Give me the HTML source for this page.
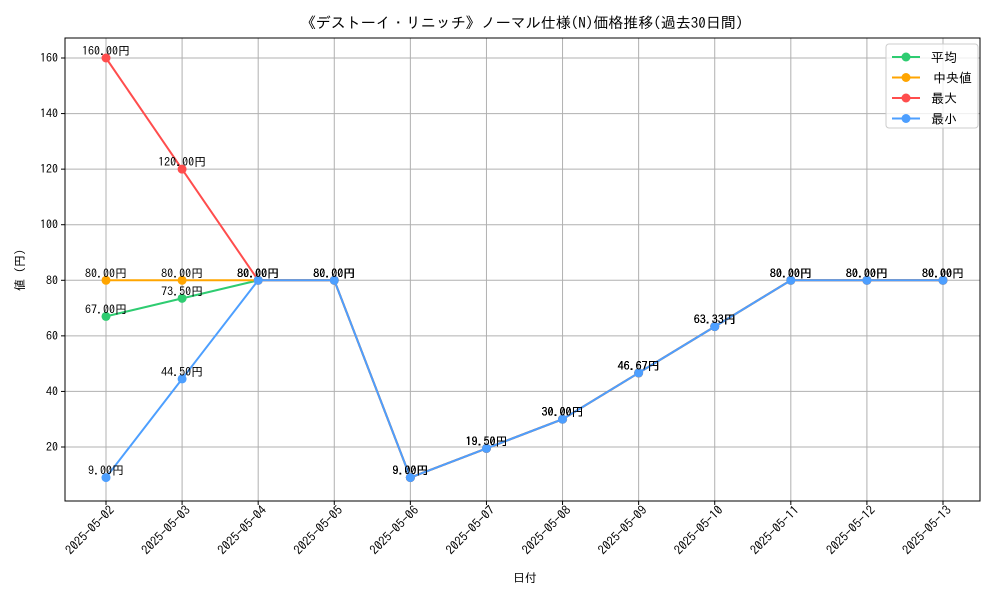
<!DOCTYPE html>
<html><head><meta charset="utf-8"><style>
body{margin:0;background:#fff}
svg text{font-family:"IPAGothic","Noto Sans CJK JP",sans-serif}
</style></head><body>
<svg id="c" width="1000" height="600" xmlns="http://www.w3.org/2000/svg">
<rect width="1000" height="600" fill="#fff"/>
<text x="522" y="28" font-size="15" text-anchor="middle">《デストーイ・リニッチ》ノーマル仕様(N)価格推移(過去30日間)</text>
<g id="grid"></g><g id="axes"></g><g id="series"></g>
<text x="525" y="582" font-size="12" text-anchor="middle">日付</text>
<text x="24" y="270" font-size="12" text-anchor="middle" transform="rotate(-90 24 270)">値 (円)</text>
<g>
<rect x="886" y="44" width="92" height="84" rx="3" fill="#fff" fill-opacity="0.8" stroke="#ccc"/>
<g id="legend"></g></g>
</svg>
<script>
const dates=["2025-05-02","2025-05-03","2025-05-04","2025-05-05","2025-05-06","2025-05-07","2025-05-08","2025-05-09","2025-05-10","2025-05-11","2025-05-12","2025-05-13"];
const meanVals=[67,73.5,80,80,9,19.5,30,46.67,63.33,80,80,80];
const medianVals=[80,80,80,80,9,19.5,30,46.67,63.33,80,80,80];
const maxVals=[160,120,80,80,9,19.5,30,46.67,63.33,80,80,80];
const minVals=[9,44.5,80,80,9,19.5,30,46.67,63.33,80,80,80];
const yTicks=[20,40,60,80,100,120,140,160];
const seriesNames=["平均","中央値","最大","最小"];
const colors=["#2ecc71","#ffa500","#ff4d4d","#4d9fff"];
const ns="http://www.w3.org/2000/svg";
const L=65,R=980,T=38,B=501;
const xs=i=>106+i*(943-106)/(dates.length-1);
const ys=v=>447-(v-20)*(447-58)/140;
function mk(tag,attrs,parent){const e=document.createElementNS(ns,tag);for(const k in attrs)e.setAttribute(k,attrs[k]);parent.appendChild(e);return e;}
const grid=document.getElementById('grid'),axes=document.getElementById('axes'),sg=document.getElementById('series'),lg=document.getElementById('legend');
dates.forEach((d,i)=>{const x=xs(i);
const g=mk('line',{x1:x,x2:x,y1:T,y2:B,stroke:'#b0b0b0','stroke-width':1},grid);

mk('line',{x1:x,x2:x,y1:B,y2:B+4,stroke:'#000'},axes);
const t=mk('text',{x:x+9,y:B+10,'font-size':12.5,'text-anchor':'end',transform:`rotate(-45 ${x+9} ${B+10})`},axes);
t.textContent=d;});
yTicks.forEach(v=>{const y=ys(v);
const g=mk('line',{x1:L,x2:R,y1:y,y2:y,stroke:'#b0b0b0','stroke-width':1},grid);

mk('line',{x1:L-4,x2:L,y1:y,y2:y,stroke:'#000'},axes);
const t=mk('text',{x:L-7,y:y+4,'font-size':12,'text-anchor':'end'},axes);
t.textContent=v;});
const fr=mk('rect',{x:L,y:T,width:R-L,height:B-T,fill:'none',stroke:'#000','stroke-width':1},axes);

[meanVals,medianVals,maxVals,minVals].forEach((vals,s)=>{
const g=mk('g',{},sg);
const p=mk('polyline',{points:vals.map((v,i)=>xs(i)+','+ys(v)).join(' '),fill:'none',stroke:colors[s],'stroke-width':2},g);

vals.forEach((v,i)=>{const c=mk('circle',{cx:xs(i),cy:ys(v),r:4.5,fill:colors[s]},g);

const t=mk('text',{x:xs(i),y:ys(v)-3,'font-size':12,'text-anchor':'middle'},g);
t.textContent=v.toFixed(2)+'円';});
const ly=57+s*20.5;
mk('line',{x1:892,x2:920,y1:ly,y2:ly,stroke:colors[s],'stroke-width':2},lg);
mk('circle',{cx:906,cy:ly,r:4.5,fill:colors[s]},lg);
const lt=mk('text',{x:s==1?933:931,y:ly+5,'font-size':13},lg);lt.textContent=seriesNames[s];
});
</script>
</body></html>
